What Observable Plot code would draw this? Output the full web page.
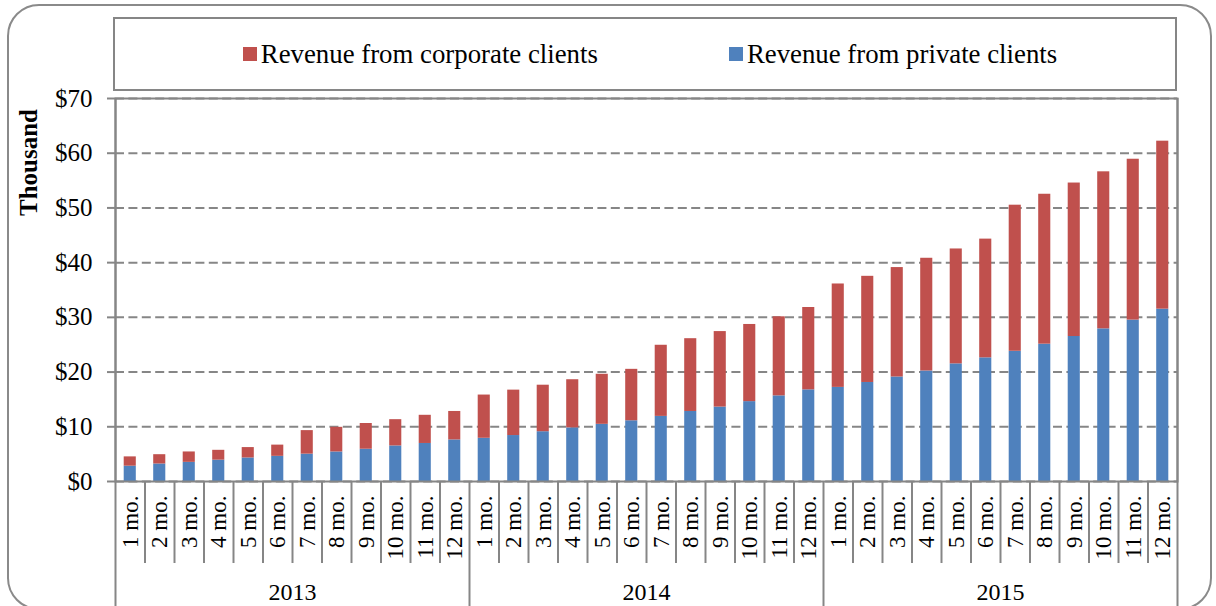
<!DOCTYPE html>
<html>
<head>
<meta charset="utf-8">
<script src="https://cdn.jsdelivr.net/npm/d3@7"></script>
<script src="https://cdn.jsdelivr.net/npm/@observablehq/plot@0.6"></script>
<style>
  html, body { margin: 0; padding: 0; background: #fff; }
  #wrap { position: relative; width: 1216px; height: 606px; overflow: hidden; font-family: "Liberation Serif", "Times New Roman", serif; }
  #outer { position: absolute; left: 7px; top: 4px; width: 1205px; height: 606px; box-sizing: border-box; border: 2px solid #8a8a8a; border-radius: 32px; }
  #chart { position: absolute; left: 0; top: 0; }
  #legend { position: absolute; left: 113px; top: 17px; width: 1064px; height: 74px; box-sizing: border-box; border: 2px solid #868686; background: #fff;
            display: flex; align-items: center; justify-content: center; gap: 131px; padding-left: 10px; font-size: 26.8px; color: #000; }
  .item { display: flex; align-items: center; }
  .sw { width: 14px; height: 14px; margin-right: 4px; }
</style>
</head>
<body>
<div id="wrap">
  <div id="outer"></div>
  <div id="chart"></div>
  <div id="legend"></div>
</div>
<script>
const years = ["2013", "2014", "2015"];
const months = ["1 mo.", "2 mo.", "3 mo.", "4 mo.", "5 mo.", "6 mo.", "7 mo.", "8 mo.", "9 mo.", "10 mo.", "11 mo.", "12 mo."];
const seriesNames = ["Revenue from corporate clients", "Revenue from private clients"];
const seriesColors = ["#C0504D", "#4F81BD"];
const yTicks = [0, 10, 20, 30, 40, 50, 60, 70];
const yLabel = "Thousand";

// Revenue, thousand $
const privateRev = [
  2.8, 3.2, 3.5, 3.9, 4.3, 4.6, 5.0, 5.4, 5.9, 6.5, 6.95, 7.6,
  7.9, 8.4, 9.1, 9.8, 10.45, 11.1, 11.9, 12.8, 13.6, 14.6, 15.65, 16.75,
  17.2, 18.1, 19.1, 20.2, 21.5, 22.6, 23.8, 25.1, 26.5, 27.9, 29.5, 31.5
];
const corporateRev = [
  1.7, 1.7, 1.9, 1.8, 1.9, 2.05, 4.3, 4.5, 4.7, 4.8, 5.15, 5.2,
  7.9, 8.3, 8.5, 8.8, 9.15, 9.4, 13.0, 13.3, 13.8, 14.1, 14.45, 15.05,
  18.9, 19.4, 20.0, 20.6, 21.0, 21.7, 26.7, 27.4, 28.05, 28.7, 29.4, 30.7
];

// Build table
const periods = [];
years.forEach(y => months.forEach(m => periods.push({key: y + "|" + m, year: y, month: m})));
const keys = periods.map(p => p.key);
const table = [];
periods.forEach((p, i) => {
  table.push({key: p.key, series: seriesNames[1], value: privateRev[i]});
  table.push({key: p.key, series: seriesNames[0], value: corporateRev[i]});
});

const W = 1216, H = 606;
const mL = 115, mR = 39, mT = 98, mB = 125;
const step = (W - mL - mR) / keys.length;
const half = step / 2;
const gray = "#868686";

const monthBoundaries = periods.filter(p => p.month !== months[0]).map(p => p.key);
const yearStarts = periods.filter(p => p.month === months[0]).map(p => p.key);
const innerYearStarts = yearStarts.slice(1);
const midKeys = years.map(y => y + "|" + months[5]);

const chart = Plot.plot({
  width: W, height: H,
  marginLeft: mL, marginRight: mR, marginTop: mT, marginBottom: mB,
  style: {fontFamily: '"Liberation Serif", "Times New Roman", serif', fontSize: "25px", color: "#000", background: "transparent", overflow: "visible"},
  x: {type: "band", domain: keys, paddingInner: 0.59, paddingOuter: 0.295, round: false, axis: null},
  y: {domain: [0, 70], axis: null},
  color: {domain: seriesNames, range: seriesColors},
  marks: [
    Plot.gridY(yTicks, {stroke: gray, strokeOpacity: 1, strokeWidth: 2, strokeDasharray: "9,4.4"}),
    Plot.barY(table, {x: "key", y: "value", fill: "series", order: [seriesNames[1], seriesNames[0]]}),
    Plot.frame({stroke: gray, strokeWidth: 2}),
    Plot.axisY(yTicks, {tickSize: 8, tickPadding: 15, tickFormat: d => "$" + d, stroke: gray, strokeWidth: 2, fontSize: 25, label: null}),
    // month separators below the axis
    Plot.ruleX(monthBoundaries, {x: d => d, y1: 0, y2: 0, dx: -half, insetBottom: -82, stroke: gray, strokeWidth: 2}),
    // year separators below the axis
    Plot.ruleX(innerYearStarts, {x: d => d, y1: 0, y2: 0, dx: -half, insetBottom: -140, stroke: gray, strokeWidth: 2}),
    Plot.ruleX([keys[0]], {x: d => d, y1: 70, y2: 0, dx: -half, insetBottom: -140, stroke: gray, strokeWidth: 2}),
    Plot.ruleX([keys[keys.length - 1]], {x: d => d, y1: 70, y2: 0, dx: half, insetBottom: -140, stroke: gray, strokeWidth: 2}),
    // month labels
    Plot.text(periods, {x: "key", text: "month", frameAnchor: "bottom", rotate: -90, textAnchor: "end", lineAnchor: "middle", dy: 14, fontSize: 23, fill: "#000"}),
    // year labels
    Plot.text(years, {x: (d, i) => midKeys[i], text: d => d, frameAnchor: "bottom", textAnchor: "middle", lineAnchor: "middle", dx: half, dy: 111, fontSize: 24, fill: "#000"}),
    // y label
    Plot.text([yLabel], {text: d => d, frameAnchor: "top-left", rotate: -90, textAnchor: "middle", lineAnchor: "middle", dx: -87, dy: 64, fontSize: 25, fontWeight: "bold", fill: "#000"})
  ]
});
document.getElementById("chart").appendChild(chart);

// Legend
const legend = document.getElementById("legend");
seriesNames.forEach((name, i) => {
  const item = document.createElement("div");
  item.className = "item";
  const sw = document.createElement("span");
  sw.className = "sw";
  sw.style.background = seriesColors[i];
  const t = document.createElement("span");
  t.textContent = name;
  item.appendChild(sw);
  item.appendChild(t);
  legend.appendChild(item);
});
</script>
</body>
</html>
